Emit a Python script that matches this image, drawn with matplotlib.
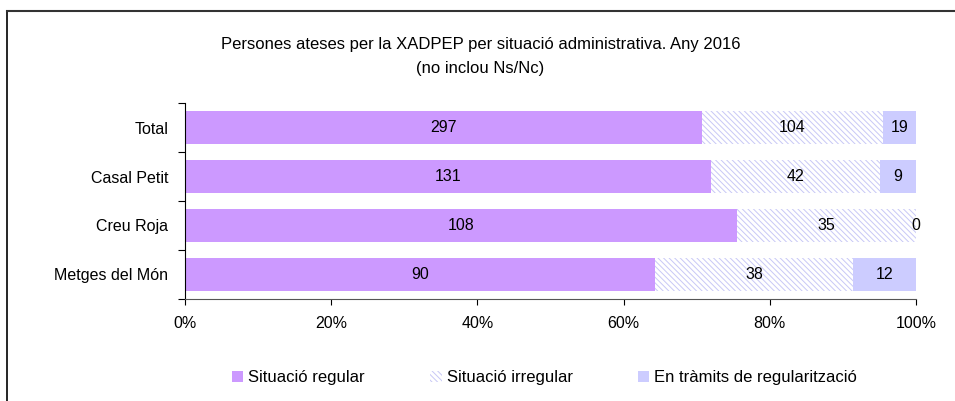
import matplotlib.pyplot as plt
from matplotlib.lines import Line2D
import numpy as np

plt.rcParams['font.family'] = ['Liberation Sans', 'DejaVu Sans']
plt.rcParams['hatch.linewidth'] = 0.7

# Data
categories = ['Total', 'Casal Petit', 'Creu Roja', 'Metges del Món']
regular = [297, 131, 108, 90]
irregular = [104, 42, 35, 38]
tramits = [19, 9, 0, 12]
series_names = ['Situació regular', 'Situació irregular', 'En tràmits de regularització']

values = np.array([regular, irregular, tramits], dtype=float)
shares = values / values.sum(axis=0)

fig = plt.figure(figsize=(9.55, 4.01), dpi=100)
ax = fig.add_axes([0.1937, 0.2544, 0.9592 - 0.1937, 0.7431 - 0.2544])

y = np.arange(len(categories))[::-1]
styles = [
    dict(color='#CC99FF', edgecolor='#CC99FF', linewidth=0),
    dict(color='white', edgecolor='#C8C8F6', hatch='\\' * 6, linewidth=0),
    dict(color='#CCCCFF', edgecolor='#CCCCFF', linewidth=0),
]

left = np.zeros(len(categories))
handles = []
for i in range(3):
    b = ax.barh(y, shares[i], left=left, height=0.67, label=series_names[i], **styles[i])
    handles.append(b)
    for yy, l, w, v in zip(y, left, shares[i], values[i]):
        ax.text(l + w / 2, yy, f'{int(v)}', ha='center', va='center', fontsize=11.5)
    left += shares[i]

ax.set_xlim(0, 1)
ax.set_ylim(-0.5, len(categories) - 0.5)
ax.set_xticks(np.linspace(0, 1, 6))
ax.set_xticklabels([f'{int(t*100)}%' for t in np.linspace(0, 1, 6)], fontsize=11.5)
ax.set_yticks(y)
ax.set_yticklabels(categories, fontsize=11.5)
ax.tick_params(axis='y', length=0, pad=12)
ax.set_yticks(np.arange(-0.5, len(categories)), minor=True)
ax.tick_params(axis='y', which='minor', length=5, width=0.8)
ax.tick_params(axis='x', length=4, width=0.8, pad=8)
for s in ['top', 'right']:
    ax.spines[s].set_visible(False)
ax.spines['left'].set_linewidth(0.8)
ax.spines['bottom'].set_linewidth(0.8)
ax.spines['bottom'].set_color('#555555')

fig.text(0.503, 0.888, 'Persones ateses per la XADPEP per situació administrativa. Any 2016',
         ha='center', va='center', fontsize=12)
fig.text(0.503, 0.830, '(no inclou Ns/Nc)', ha='center', va='center', fontsize=12)

fig.legend(handles=handles, loc='center', bbox_to_anchor=(0.570, 0.058), ncol=3,
           frameon=False, fontsize=12, handlelength=0.7, handleheight=0.7,
           handletextpad=0.3, columnspacing=3.9)

# chart border
fig.add_artist(Line2D([7 / 955, 7 / 955], [0, 1 - 11 / 401], color='black', linewidth=1.2))
fig.add_artist(Line2D([7 / 955, 1], [1 - 11 / 401, 1 - 11 / 401], color='#333333', linewidth=1.5))

fig.savefig('out.png', dpi=100)
